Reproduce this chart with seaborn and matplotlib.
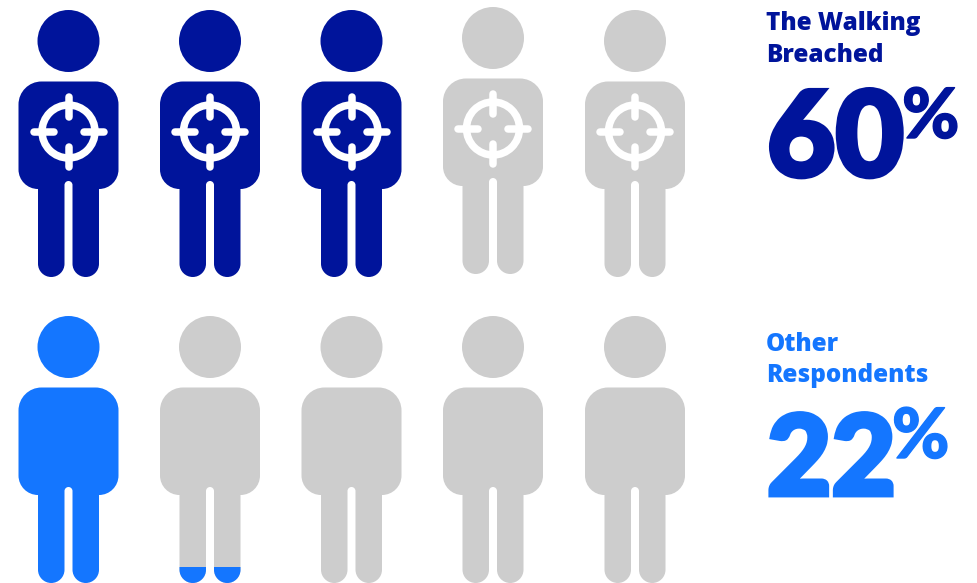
import matplotlib
matplotlib.use("Agg")
import matplotlib.pyplot as plt
import matplotlib.patheffects as pe
import numpy as np
import pandas as pd
import seaborn as sns
from matplotlib.patches import Circle, PathPatch, Rectangle
from matplotlib.path import Path

# Survey results
group_names = ["The Walking\nBreached", "Other\nRespondents"]
group_percents = [60, 22]
group_colors = ["#00149B", "#1476FF"]
# Share of each pictogram that is coloured in, one list per group
person_fill = [[1, 1, 1, 0, 0], [1, 0.06, 0, 0, 0]]
person_targeted = [True, False]

GRAY = "#CDCDCD"
PERSON_X = [68.5, 210, 351.5, 493, 635]
ROW_HEAD_Y = [41, 347]
# Small vertical nudge per pictogram in each row
ROW_NUDGE = [[0, 0, 0, -3, 0], [0, 0, 0, 0, 0]]
HEAD_R = 31
PERSON_H = 267
PX = 72 / 100  # points per pixel at 100 dpi

KAPPA = 0.5523


def corner(verts, codes, p0, p1, c):
    """Quarter-circle-like cubic from p0 to p1 with control corner c."""
    p0, p1, c = map(np.array, (p0, p1, c))
    verts += [tuple(p0 + KAPPA * (c - p0)), tuple(p1 + KAPPA * (c - p1)), tuple(p1)]
    codes += [Path.CURVE4] * 3


def person_path(cx, head_y):
    """Body and legs outline around a centre line, head centre at head_y."""
    top = head_y + 40.5
    bottom = head_y + 148
    foot = head_y + 236
    gap_top = head_y + 140
    bw, lw, gw = 50, 30.5, 4
    leg_r = (lw - gw) / 2
    tr, br = 23, bw - lw
    L = lambda d: cx - d
    R = lambda d: cx + d

    v = [(L(bw), top + tr)]
    c = [Path.MOVETO]
    corner(v, c, (L(bw), top + tr), (L(bw - tr), top), (L(bw), top))
    v.append((R(bw - tr), top)); c.append(Path.LINETO)
    corner(v, c, (R(bw - tr), top), (R(bw), top + tr), (R(bw), top))
    v.append((R(bw), bottom - br)); c.append(Path.LINETO)
    corner(v, c, (R(bw), bottom - br), (R(lw), bottom), (R(bw), bottom))
    v.append((R(lw), foot - leg_r)); c.append(Path.LINETO)
    corner(v, c, (R(lw), foot - leg_r), (R(lw - leg_r), foot), (R(lw), foot))
    corner(v, c, (R(lw - leg_r), foot), (R(gw), foot - leg_r), (R(gw), foot))
    v.append((R(gw), gap_top + gw)); c.append(Path.LINETO)
    corner(v, c, (R(gw), gap_top + gw), (cx, gap_top), (R(gw), gap_top))
    corner(v, c, (cx, gap_top), (L(gw), gap_top + gw), (L(gw), gap_top))
    v.append((L(gw), foot - leg_r)); c.append(Path.LINETO)
    corner(v, c, (L(gw), foot - leg_r), (L(lw - leg_r), foot), (L(gw), foot))
    corner(v, c, (L(lw - leg_r), foot), (L(lw), foot - leg_r), (L(lw), foot))
    v.append((L(lw), bottom)); c.append(Path.LINETO)
    corner(v, c, (L(lw), bottom), (L(bw), bottom - br), (L(bw), bottom))
    v.append((L(bw), top + tr)); c.append(Path.LINETO)
    return Path(v, c)


def crosshair(ax, cx, cy):
    ax.add_patch(Circle((cx, cy), 26.5, fc="none", ec="white", lw=7.5 * PX, zorder=5))
    for (x0, y0, x1, y1) in [(0, -35, 0, -15), (0, 15, 0, 35), (-35, 0, -15, 0), (15, 0, 35, 0)]:
        ax.plot([cx + x0, cx + x1], [cy + y0, cy + y1], color="white", lw=7.5 * PX,
                solid_capstyle="round", zorder=6)


sns.set_theme(style="white")
plt.rcParams["font.family"] = ["Lato", "DejaVu Sans"]

fig = plt.figure(figsize=(9.77, 5.83), dpi=100)
ax = fig.add_axes([0, 0, 1, 1])

# Heads are drawn as a seaborn scatter, coloured by state
heads = pd.DataFrame(
    [
        {
            "x": PERSON_X[i],
            "y": ROW_HEAD_Y[r] + ROW_NUDGE[r][i],
            "state": group_colors[r] if person_fill[r][i] >= 1 else GRAY,
        }
        for r in range(2)
        for i in range(5)
    ]
)
sns.scatterplot(
    data=heads, x="x", y="y", hue="state",
    palette={c: c for c in heads["state"].unique()},
    s=(2 * HEAD_R * PX) ** 2, linewidth=0, legend=False, ax=ax, zorder=3,
)

ax.set_xlim(0, 977)
ax.set_ylim(583, 0)

for r in range(2):
    for i, cx in enumerate(PERSON_X):
        head_y = ROW_HEAD_Y[r] + ROW_NUDGE[r][i]
        share = person_fill[r][i]
        path = person_path(cx, head_y)
        base = group_colors[r] if share >= 1 else GRAY
        ax.add_patch(PathPatch(path, fc=base, ec="none", zorder=3))
        if 0 < share < 1:
            foot = head_y - HEAD_R + PERSON_H
            over = PathPatch(path, fc=group_colors[r], ec="none", zorder=4)
            ax.add_patch(over)
            clip = Rectangle((cx - 60, foot - share * PERSON_H), 120, share * PERSON_H,
                             transform=ax.transData)
            over.set_clip_path(clip)
        if person_targeted[r]:
            crosshair(ax, cx, head_y + 90.5)

# Group captions and headline figures
LABEL_X = 766
NAME_BASE = [[30, 62], [351, 382]]
FIG_BASE = [176, 495]
FIG_SIZE = [85, 80]
PCT_BASE = [138, 458]
PCT_X = [902, 892]
for r, (name, pct, col) in enumerate(zip(group_names, group_percents, group_colors)):
    for line, base in zip(name.split("\n"), NAME_BASE[r]):
        ax.text(LABEL_X, base, line, color=col, fontsize=17.5, fontweight=800,
                family=["Open Sans", "DejaVu Sans"], ha="left", va="baseline")
    # A stroke in the text colour gives the figures extra weight
    ax.text(LABEL_X + 1, FIG_BASE[r], str(pct), color=col, fontsize=FIG_SIZE[r],
            fontweight="black", ha="left", va="baseline",
            path_effects=[pe.withStroke(linewidth=3.5, foreground=col, joinstyle="miter")])
    ax.text(PCT_X[r], PCT_BASE[r], "%", color=col, fontsize=50, fontweight="black",
            ha="left", va="baseline",
            path_effects=[pe.withStroke(linewidth=1, foreground=col)])

ax.set_xlabel("")
ax.set_ylabel("")
ax.set_xticks([])
ax.set_yticks([])
sns.despine(ax=ax, left=True, bottom=True)
fig.savefig("out.png", dpi=100)
